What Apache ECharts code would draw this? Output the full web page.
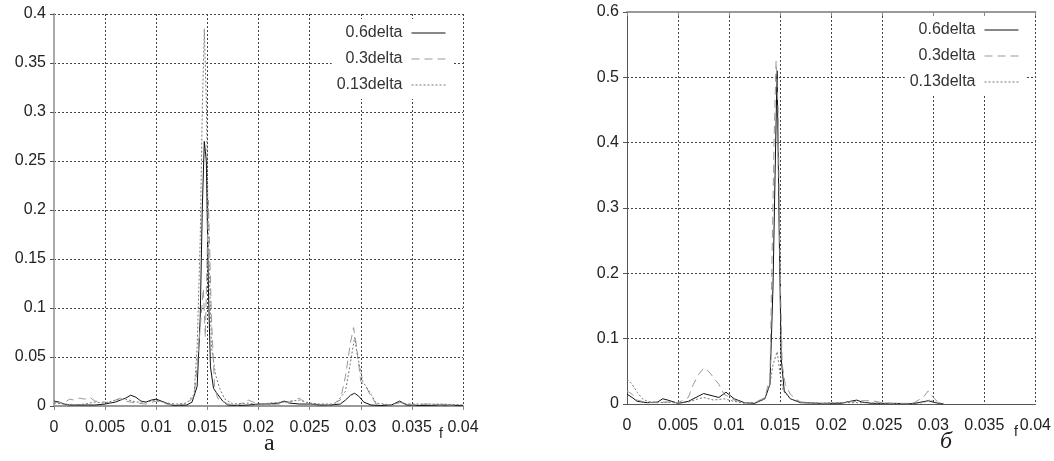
<!DOCTYPE html>
<html>
<head>
<meta charset="utf-8">
<script src="https://cdn.jsdelivr.net/npm/echarts@6/dist/echarts.min.js"></script>
<style>
  html, body { margin: 0; padding: 0; background: #fff; }
  #chart { width: 1054px; height: 461px; }
</style>
</head>
<body>
<div id="chart"></div>
<script>
// spectra, [f, amplitude]
var a06 = [[0,0.005],[0.0005,0.004],[0.001,0.002],[0.0015,0.001],[0.002,0.001],[0.003,0.001],[0.004,0.001],[0.005,0.002],[0.006,0.004],[0.0065,0.006],[0.007,0.008],[0.0075,0.011],[0.008,0.009],[0.0085,0.005],[0.009,0.004],[0.0095,0.006],[0.01,0.007],[0.0105,0.005],[0.011,0.003],[0.0115,0.001],[0.012,0.0005],[0.013,0.001],[0.0135,0.004],[0.014,0.02],[0.0143,0.09],[0.0145,0.2],[0.0147,0.27],[0.0149,0.25],[0.0151,0.12],[0.0153,0.04],[0.0156,0.018],[0.016,0.012],[0.0165,0.005],[0.017,0.001],[0.018,0.0005],[0.019,0.001],[0.02,0.002],[0.021,0.002],[0.022,0.003],[0.0225,0.005],[0.023,0.003],[0.024,0.002],[0.025,0.002],[0.026,0.001],[0.027,0.001],[0.028,0.002],[0.0285,0.006],[0.029,0.011],[0.0294,0.013],[0.0298,0.01],[0.0303,0.004],[0.031,0.001],[0.032,0.0005],[0.033,0.001],[0.0338,0.005],[0.0345,0.001],[0.036,0.0005],[0.038,0.001],[0.04,0.0005]]
var a03 = [[0,0.004],[0.001,0.003],[0.0015,0.007],[0.002,0.006],[0.0025,0.008],[0.003,0.007],[0.0035,0.009],[0.004,0.005],[0.005,0.004],[0.0055,0.003],[0.006,0.006],[0.0065,0.008],[0.007,0.005],[0.008,0.003],[0.009,0.002],[0.01,0.005],[0.0105,0.004],[0.011,0.002],[0.012,0.001],[0.013,0.002],[0.0137,0.01],[0.014,0.04],[0.0143,0.08],[0.0146,0.12],[0.0148,0.07],[0.0151,0.21],[0.0154,0.09],[0.0157,0.02],[0.016,0.008],[0.017,0.002],[0.018,0.001],[0.019,0.006],[0.0195,0.004],[0.02,0.001],[0.022,0.002],[0.023,0.004],[0.024,0.008],[0.0245,0.004],[0.025,0.002],[0.026,0.002],[0.027,0.001],[0.028,0.006],[0.0285,0.03],[0.029,0.065],[0.0293,0.08],[0.0296,0.06],[0.03,0.025],[0.0305,0.02],[0.031,0.01],[0.0315,0.002],[0.033,0.001],[0.034,0.004],[0.035,0.001],[0.0365,0.002],[0.038,0.001],[0.0395,0.001]]
var a013 = [[0,0.003],[0.001,0.002],[0.002,0.001],[0.003,0.002],[0.004,0.004],[0.005,0.003],[0.006,0.006],[0.007,0.007],[0.008,0.004],[0.009,0.004],[0.01,0.006],[0.011,0.003],[0.012,0.002],[0.013,0.003],[0.0137,0.012],[0.014,0.06],[0.0143,0.17],[0.0145,0.3],[0.0147,0.385],[0.0149,0.31],[0.0151,0.17],[0.0154,0.06],[0.0158,0.032],[0.0162,0.018],[0.0167,0.007],[0.0175,0.002],[0.019,0.003],[0.02,0.001],[0.021,0.003],[0.0225,0.004],[0.024,0.006],[0.025,0.003],[0.026,0.002],[0.0275,0.002],[0.0285,0.015],[0.029,0.045],[0.0294,0.07],[0.0297,0.05],[0.0302,0.025],[0.031,0.012],[0.0315,0.003],[0.033,0.001],[0.0337,0.004],[0.0345,0.002],[0.036,0.002],[0.038,0.002],[0.04,0.001]]

var b06 = [[0,0.015],[0.0005,0.01],[0.001,0.004],[0.002,0.002],[0.003,0.003],[0.0035,0.008],[0.004,0.006],[0.005,0.001],[0.006,0.004],[0.007,0.012],[0.0075,0.016],[0.0085,0.012],[0.009,0.01],[0.0097,0.018],[0.0105,0.008],[0.0115,0.002],[0.0125,0.001],[0.0135,0.008],[0.014,0.03],[0.0143,0.18],[0.0145,0.35],[0.0147,0.51],[0.0149,0.27],[0.0151,0.07],[0.0154,0.02],[0.016,0.008],[0.017,0.002],[0.019,0.001],[0.021,0.001],[0.0215,0.003],[0.0225,0.006],[0.023,0.003],[0.024,0.001],[0.026,0.001],[0.028,0.0005],[0.0295,0.005],[0.0302,0.002],[0.031,0]]
var b03 = [[0,0.02],[0.0005,0.015],[0.001,0.006],[0.002,0.002],[0.003,0.002],[0.004,0.003],[0.005,0.002],[0.006,0.01],[0.0065,0.03],[0.007,0.045],[0.0075,0.055],[0.008,0.05],[0.0085,0.04],[0.009,0.03],[0.0095,0.015],[0.0105,0.006],[0.0115,0.002],[0.0125,0.002],[0.0135,0.01],[0.014,0.04],[0.0142,0.22],[0.0144,0.4],[0.0146,0.525],[0.0148,0.45],[0.015,0.2],[0.0152,0.06],[0.0155,0.03],[0.016,0.015],[0.0165,0.008],[0.017,0.003],[0.019,0.001],[0.021,0.002],[0.023,0.005],[0.024,0.005],[0.025,0.002],[0.026,0.001],[0.028,0.001],[0.029,0.01],[0.0295,0.02],[0.03,0.01],[0.0305,0.002]]
var b013 = [[0,0.038],[0.0005,0.03],[0.001,0.018],[0.0015,0.008],[0.002,0.004],[0.003,0.002],[0.004,0.003],[0.005,0.001],[0.006,0.003],[0.007,0.008],[0.0075,0.01],[0.0085,0.006],[0.0095,0.008],[0.0105,0.004],[0.0115,0.001],[0.0125,0.002],[0.0135,0.008],[0.014,0.03],[0.0143,0.06],[0.0147,0.08],[0.015,0.045],[0.0153,0.02],[0.016,0.008],[0.017,0.003],[0.019,0.001],[0.021,0.002],[0.023,0.002],[0.025,0.001],[0.027,0.0005],[0.029,0.002],[0.0296,0.006],[0.0302,0.003],[0.031,0]]

var names = ['0.6delta', '0.3delta', '0.13delta']
var font = 'Liberation Sans'

var myChart = echarts.init(document.getElementById('chart'), null, { renderer: 'canvas' })

var styles = [
  { color: '#111', type: 'solid' },
  { color: '#999', type: [8, 5] },
  { color: '#777', type: [2, 2] }
]

function bottomAxis(grid, max) {
  return {
    type: 'value', gridIndex: grid, min: 0, max: max, interval: 0.005,
    axisLine: { lineStyle: { color: '#555' } },
    axisTick: { show: false },
    axisLabel: { fontFamily: font, fontSize: 16, color: '#222', margin: 14 },
    splitLine: { show: true, lineStyle: { color: '#444', type: [2, 2] } }
  }
}
function topAxis(grid, max) {
  return {
    type: 'value', gridIndex: grid, position: 'top', min: 0, max: max, interval: 0.005,
    axisLine: { lineStyle: { color: '#999', width: 2 } },
    axisTick: { inside: true, length: 4, lineStyle: { color: '#888' } },
    axisLabel: { show: false },
    splitLine: { show: false }
  }
}
function leftAxis(grid, max, step) {
  return {
    type: 'value', gridIndex: grid, min: 0, max: max, interval: step,
    axisLine: { show: true, lineStyle: { color: '#555' } },
    axisTick: { show: true, length: 4, lineStyle: { color: '#555' } },
    axisLabel: { fontFamily: font, fontSize: 16, color: '#222', margin: 8 },
    splitLine: { show: true, lineStyle: { color: '#444', type: [2, 2] } }
  }
}

function makeSeries(data, i, xi, yi) {
  return {
    name: names[i], type: 'line', data: data, xAxisIndex: xi, yAxisIndex: yi,
    symbol: 'none', smooth: false, animation: false,
    lineStyle: { width: 1, color: styles[i].color, type: styles[i].type },
    itemStyle: { color: styles[i].color }
  }
}

function makeLegend(id, right, top) {
  return {
    id: id, orient: 'vertical', align: 'right', right: right, top: top,
    itemWidth: 34, itemHeight: 14, itemGap: 10,
    padding: [6, 7, 6, 5],
    backgroundColor: '#fff',
    itemStyle: { opacity: 0 },
    lineStyle: { width: 1 },
    textStyle: { fontFamily: font, fontSize: 16, color: '#333', padding: [0, 4, 0, 0] },
    data: names
  }
}

var option = {
  animation: false,
  grid: [
    { left: 54, top: 14, width: 409, height: 392 },
    { left: 627, top: 12, width: 411, height: 392 }
  ],
  xAxis: [bottomAxis(0, 0.04), topAxis(0, 0.04), bottomAxis(1, 0.04), topAxis(1, 0.04)],
  yAxis: [
    leftAxis(0, 0.4, 0.05),
    {
      type: 'value', gridIndex: 0, position: 'right', min: 0, max: 0.4, interval: 0.05,
      axisLine: { show: true, lineStyle: { color: '#aaa', width: 2 } },
      axisTick: { show: false }, axisLabel: { show: false }, splitLine: { show: false }
    },
    leftAxis(1, 0.6, 0.1)
  ],
  legend: [
    makeLegend('la', 601, 19),
    makeLegend('lb', 28, 16)
  ],
  series: [
    makeSeries(a06, 0, 0, 0),
    makeSeries(a03, 1, 0, 0),
    makeSeries(a013, 2, 0, 0),
    makeSeries(b06, 0, 2, 2),
    makeSeries(b03, 1, 2, 2),
    makeSeries(b013, 2, 2, 2)
  ],
  graphic: [
    { type: 'text', left: 439, top: 427, style: { text: 'f', fontFamily: font, fontSize: 14, fill: '#222' } },
    { type: 'text', left: 1014, top: 425, style: { text: 'f', fontFamily: font, fontSize: 14, fill: '#222' } },
    { type: 'text', left: 264, top: 432, style: { text: 'a', fontFamily: 'Liberation Serif', fontSize: 24, fill: '#222' } },
    { type: 'text', left: 940, top: 430, style: { text: 'б', fontFamily: 'Liberation Serif', fontStyle: 'italic', fontSize: 24, fill: '#222' } }
  ]
}

option && myChart.setOption(option)
</script>
</body>
</html>
